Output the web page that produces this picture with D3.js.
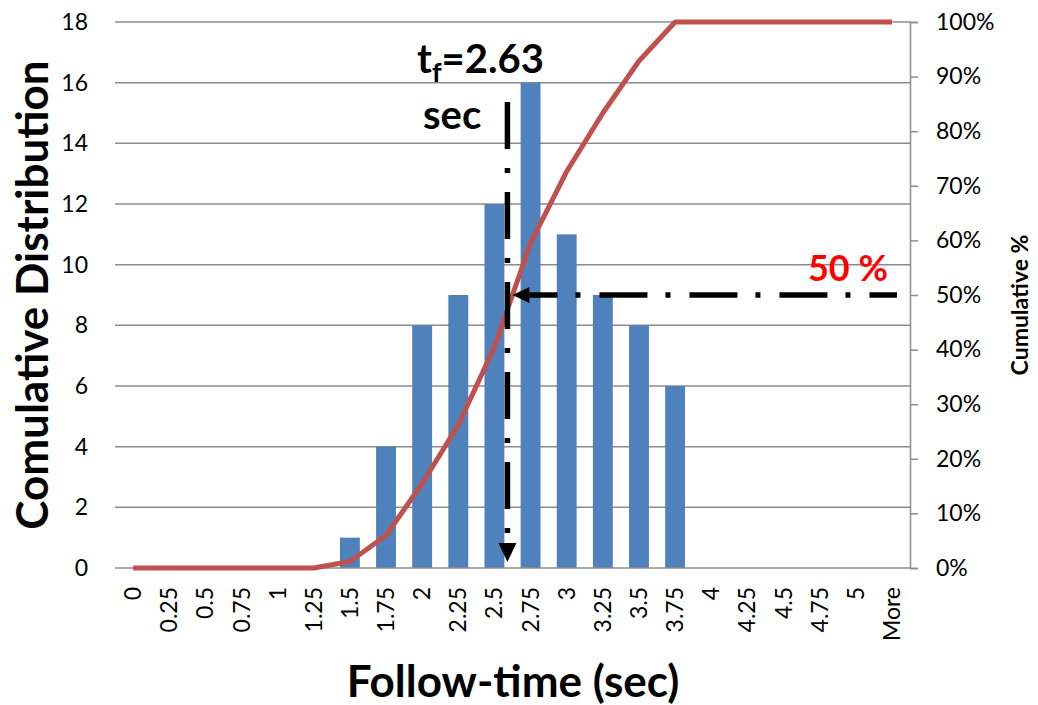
<!DOCTYPE html>
<html><head><meta charset="utf-8">
<script src="https://cdn.jsdelivr.net/npm/d3@7"></script>
<style>
html,body{margin:0;padding:0;background:#fff;}
svg{display:block;font-family:Lato, "Open Sans", sans-serif;}
</style></head>
<body>
<svg id="chart" width="1038" height="705"></svg>
<script>
const categories = ["0","0.25","0.5","0.75","1","1.25","1.5","1.75","2","2.25","2.5","2.75","3","3.25","3.5","3.75","4","4.25","4.5","4.75","5","More"];
const counts = [0,0,0,0,0,0,1,4,8,9,12,16,11,9,8,6,0,0,0,0,0,0];
const cumulativePct = [0,0,0,0,0,0,1.19,5.95,15.48,26.19,40.48,59.52,72.62,83.33,92.86,100,100,100,100,100,100,100];
const leftTicks = [0,2,4,6,8,10,12,14,16,18];
const rightTicks = [0,0.1,0.2,0.3,0.4,0.5,0.6,0.7,0.8,0.9,1.0];
const tfValue = 2.59;      // position of the t_f marker on the time axis
const tfLabel = "2.63";
const medianPct = 0.5;

const svg = d3.select("#chart");
const L = 115, R = 910, T = 22, B = 568;
const tickFont = 23;

const x = d3.scaleBand().domain(categories).range([L, R]).paddingInner(0.45).paddingOuter(0.225);
const yL = d3.scaleLinear().domain([0, 18]).range([B, T]);
const yR = d3.scaleLinear().domain([0, 1]).range([B, T]);
const cx = c => x(c) + x.bandwidth() / 2;
const xTime = d3.scaleLinear().domain([0, 5]).range([cx("0"), cx("5")]);

// gridlines
svg.append("g").selectAll("line").data(leftTicks.filter(d => d > 0)).join("line")
  .attr("x1", L).attr("x2", R).attr("y1", d => yL(d)).attr("y2", d => yL(d))
  .attr("stroke", "#8c8c8c").attr("stroke-width", 1.5);

// left axis labels (no line)
const gl = svg.append("g").attr("transform", `translate(${L},0)`)
  .call(d3.axisLeft(yL).tickValues(leftTicks).tickSize(0).tickPadding(27));
gl.select(".domain").remove();
gl.selectAll("text").attr("font-size", tickFont).attr("font-family", "Lato").attr("fill", "#000");

// right axis
const gr = svg.append("g").attr("transform", `translate(${R},0)`)
  .call(d3.axisRight(yR).tickValues(rightTicks).tickSize(8).tickPadding(18).tickFormat(d3.format(".0%")));
gr.select(".domain").attr("stroke", "#8c8c8c").attr("stroke-width", 1.5);
gr.selectAll(".tick line").attr("stroke", "#8c8c8c").attr("stroke-width", 1.5);
gr.selectAll("text").attr("font-size", tickFont).attr("font-family", "Lato").attr("fill", "#000");

// bars
svg.append("g").selectAll("rect").data(categories.map((c, i) => ({c, v: counts[i]})).filter(d => d.v > 0)).join("rect")
  .attr("x", d => x(d.c)).attr("width", x.bandwidth())
  .attr("y", d => yL(d.v)).attr("height", d => yL(0) - yL(d.v))
  .attr("fill", "#4F81BD");

// bottom axis
const gb = svg.append("g").attr("transform", `translate(0,${B})`)
  .call(d3.axisBottom(x).tickSize(0).tickPadding(0));
gb.select(".domain").attr("stroke", "#8c8c8c").attr("stroke-width", 1.5).attr("d", `M${L},0H${R}`);
gb.selectAll("text")
  .attr("font-size", tickFont).attr("font-family", "Lato").attr("fill", "#000")
  .attr("transform", "rotate(-90)")
  .attr("text-anchor", "end").attr("dy", "0.35em").attr("x", -19).attr("y", 0);

// cumulative line
svg.append("path")
  .datum(categories.map((c, i) => [cx(c), yR(cumulativePct[i] / 100)]))
  .attr("d", d3.line())
  .attr("fill", "none").attr("stroke", "#C0504D").attr("stroke-width", 5).attr("stroke-linejoin", "round");

// annotations
const ax = xTime(tfValue), ay = yR(medianPct);
// vertical dash-dot arrow
svg.append("line").attr("x1", ax).attr("x2", ax).attr("y1", 102).attr("y2", 543)
  .attr("stroke", "#000").attr("stroke-width", 5.5).attr("stroke-dasharray", "47,19,5,19");
svg.append("path").attr("d", `M${ax - 9},543L${ax + 9},543L${ax},562Z`).attr("fill", "#000");
// horizontal dash-dot arrow
svg.append("line").attr("x1", ax + 22).attr("x2", 897).attr("y1", ay).attr("y2", ay)
  .attr("stroke", "#000").attr("stroke-width", 5.5).attr("stroke-dasharray", "48,18,5,19").attr("stroke-dashoffset", 20);
svg.append("path").attr("d", `M${ax + 5},${ay}L${ax + 22},${ay - 8}L${ax + 22},${ay + 8}Z`).attr("fill", "#000");

// tf label
const tf = svg.append("text").attr("x", 417).attr("y", 73).attr("font-size", 40).attr("font-weight", "bold").attr("fill", "#000");
tf.append("tspan").text("t");
tf.append("tspan").text("f").attr("font-size", 27).attr("dy", 9);
tf.append("tspan").text("=" + tfLabel).attr("dy", -9);
svg.append("text").attr("x", 423).attr("y", 129).attr("font-size", 40).attr("font-weight", "bold").attr("fill", "#000").text("sec");

svg.append("text").attr("x", 888).attr("y", 281).attr("text-anchor", "end")
  .attr("font-size", 36).attr("font-weight", "bold").attr("fill", "#FF0000").text("50 %");

// axis titles
svg.append("text").attr("transform", `translate(48,295) rotate(-90)`).attr("text-anchor", "middle")
  .attr("font-size", 44).attr("font-weight", "bold").attr("fill", "#000").text("Comulative Distribution");
svg.append("text").attr("x", 513).attr("y", 697).attr("text-anchor", "middle")
  .attr("font-size", 44).attr("font-weight", "bold").attr("fill", "#000").text("Follow-time (sec)");
svg.append("text").attr("transform", `translate(1028,305) rotate(-90)`).attr("text-anchor", "middle")
  .attr("font-size", 23).attr("font-weight", "bold").attr("fill", "#000").text("Cumulative %");
</script>
</body></html>
